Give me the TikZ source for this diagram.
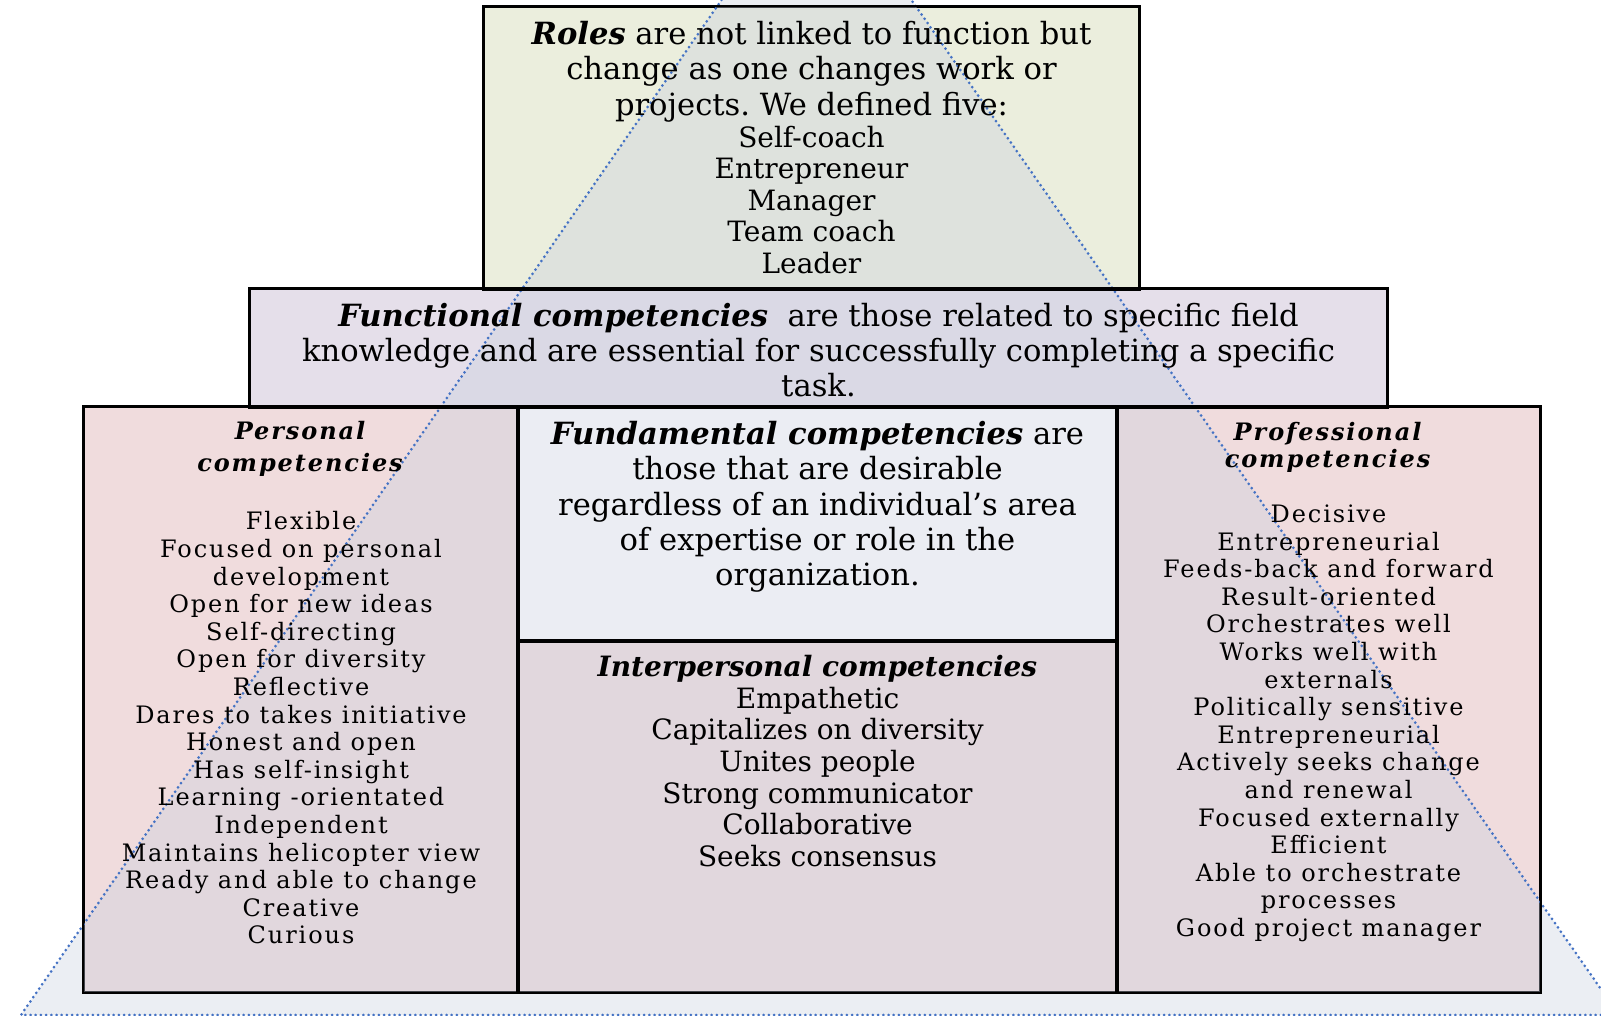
\documentclass[tikz,border=0pt]{standalone}
\usepackage{fontspec}
\setmainfont{DejaVu Serif}
\usetikzlibrary{positioning, fit}

\definecolor{rolesgreen}{RGB}{235,238,221}
\definecolor{funclilac}{RGB}{229,223,234}
\definecolor{comppink}{RGB}{240,220,221}
\definecolor{pyrfill}{RGB}{198,206,221}
\definecolor{dotblue}{RGB}{68,114,196}

\newcommand{\bi}[1]{\textbf{\textit{#1}}}
\newcommand{\spaced}{\addfontfeature{LetterSpace=8}}
\frenchspacing

\begin{document}
\begin{tikzpicture}[x=0.5pt,y=-0.5pt]
    \tikzstyle{box}=[draw=black, line width=1pt, inner sep=0pt]
    \tikzstyle{txt}=[align=center, inner sep=0pt, text=black]
    \tikzstyle{prose}=[txt, font=\fontsize{15.3}{17.65}\selectfont]
    \tikzstyle{plain list}=[txt, font=\fontsize{14}{15.8}\selectfont]
    \tikzstyle{spaced list}=[txt, font={\fontsize{12}{13.8}\selectfont\spaced}]
    \tikzstyle{pyramid}=[draw=dotblue, line width=1.5pt, line cap=round, dash pattern=on 0pt off 2.6pt, fill=pyrfill, fill opacity=0.35]

    \path[use as bounding box] (0,0) rectangle (1601,1016);
    \clip (0,0) rectangle (1601,1016);

    % boxes
    \node[box, fill=comppink, fit={(84,407) (518,992)}] (personal) {};
    \node[box, fill=white, fit={(518,407) (1117,641)}] (fundamental) {};
    \node[box, fill=comppink, fit={(518,641) (1117,992)}] (interpersonal) {};
    \node[box, fill=comppink, fit={(1117,407) (1540,992)}] (professional) {};
    \node[box, fill=rolesgreen, fit={(484,7) (1139,289)}] (roles) {};
    \node[box, fill=funclilac, fit={(250,289) (1387,407)}] (functional) {};

    % the pyramid lies over the boxes
    \coordinate (apex) at (816,-137);
    \coordinate (baseL) at (21,1015);
    \coordinate (baseR) at (1619,1015);
    \draw[pyramid] (apex) -- (baseL) -- (baseR) -- cycle;

    % frames stay black on top
    \foreach \b in {personal, fundamental, interpersonal, professional, roles, functional}
        \draw[box] (\b.south west) rectangle (\b.north east);

    \node[prose, below=7.5pt of roles.north] (rolestxt)
        {\bi{Roles} are not linked to function but\\[0pt]
         change as one changes work or\\[0pt]
         projects. We defined five:\\[-1.6pt]
         {\fontsize{14}{15.7}\selectfont Self-coach}\\[-1.9pt]
         {\fontsize{14}{15.7}\selectfont Entrepreneur}\\[-1.9pt]
         {\fontsize{14}{15.7}\selectfont Manager}\\[-1.9pt]
         {\fontsize{14}{15.7}\selectfont Team coach}\\[-1.9pt]
         {\fontsize{14}{15.7}\selectfont Leader}};
    \node[prose, below=7.3pt of functional.north] (functxt)
        {\bi{Functional competencies}\ \ are those related to specific field\\
         knowledge and are essential for successfully completing a specific\\
         task.};
    \node[prose, below=7.5pt of fundamental.north] (fundtxt)
        {\bi{Fundamental competencies} are\\
         those that are desirable\\
         regardless of an individual’s area\\
         of expertise or role in the\\
         organization.};
    \node[plain list, below=7.5pt of interpersonal.north] (intertxt)
        {\bi{Interpersonal competencies}\\
         Empathetic\\ Capitalizes on diversity\\ Unites people\\
         Strong communicator\\ Collaborative\\ Seeks consensus};
    \node[spaced list, below=7.5pt of personal.north] (perstxt)
        {\bi{Personal}\\[2pt]
         \bi{competencies}\\[15.5pt]
         Flexible\\ Focused on personal\\ development\\ Open for new ideas\\
         Self-directing\\ Open for diversity\\ Reflective\\
         Dares to takes initiative\\ Honest and open\\ Has self-insight\\
         Learning -orientated\\ Independent\\ Maintains helicopter view\\
         Ready and able to change\\ Creative\\ Curious};
    \node[spaced list, below=8pt of professional.north] (proftxt)
        {\bi{Professional}\\[-0.5pt]
         \bi{competencies}\\[13.8pt]
         Decisive\\ Entrepreneurial\\ Feeds-back and forward\\ Result-oriented\\
         Orchestrates well\\ Works well with\\ externals\\ Politically sensitive\\
         Entrepreneurial\\ Actively seeks change\\ and renewal\\
         Focused externally\\ Efficient\\ Able to orchestrate\\ processes\\
         Good project manager};
\end{tikzpicture}
\end{document}
